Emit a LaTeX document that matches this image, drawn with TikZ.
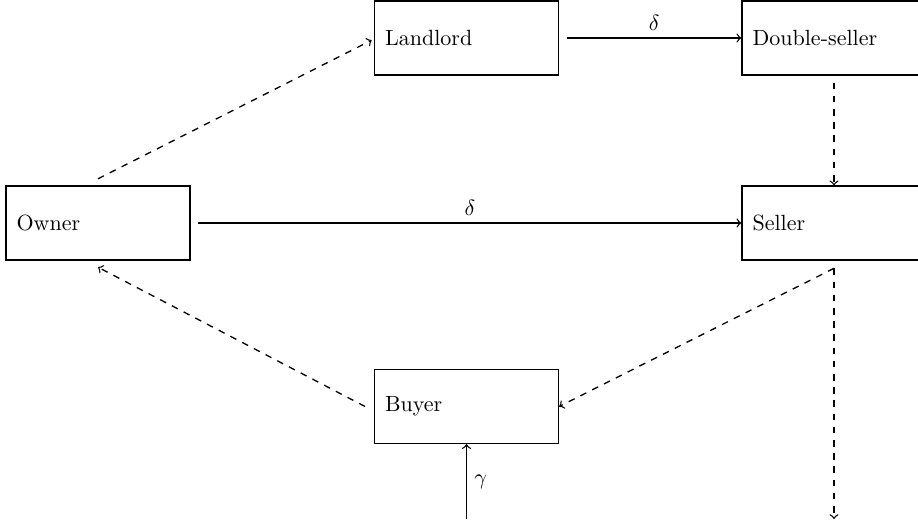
\documentclass[tikz,border=0pt]{standalone}
\usetikzlibrary{arrows}
\begin{document}
\begin{tikzpicture}[x=0.4545pt,y=-0.4545pt, semithick,
  agent/.style={draw, rectangle, minimum width=83.6pt, minimum height=33.6pt,
    text width=74pt, align=left, inner xsep=4.8pt},
  flow/.style={->},
  dflow/.style={->, dashed}]
\clip (0,0) rectangle (918,521);
\node[agent] (owner) at (98,223) {Owner};
\node[agent] (landlord) at (466.5,38) {Landlord};
\node[agent] (dseller) at (834,38) {Double-seller};
\node[agent] (seller) at (834,223) {Seller};
\node[agent] (buyer) at (466.5,406.5) {Buyer};
\coordinate (out) at (834,519);
\coordinate (in) at (466.5,519);
\draw[dflow] ([yshift=3pt]owner.north) -- ([xshift=-1pt,yshift=-1pt]landlord.west);
\draw[flow] ([xshift=3.5pt]landlord.east) -- node[above] {$\delta$} (dseller.west);
\draw[dflow] ([yshift=-3.2pt]dseller.south) -- (seller.north);
\draw[flow] ([xshift=3.5pt]owner.east) -- node[above] {$\delta$} (seller.west);
\draw[dflow] ([yshift=-3.5pt]seller.south) -- (buyer.east);
\draw[dflow] ([yshift=-3.5pt]seller.south) -- (out);
\draw[dflow] ([xshift=-4pt]buyer.west) -- ([yshift=-3pt]owner.south);
\draw[->] (in) -- node[right] {$\gamma$} (buyer.south);
\end{tikzpicture}
\end{document}
